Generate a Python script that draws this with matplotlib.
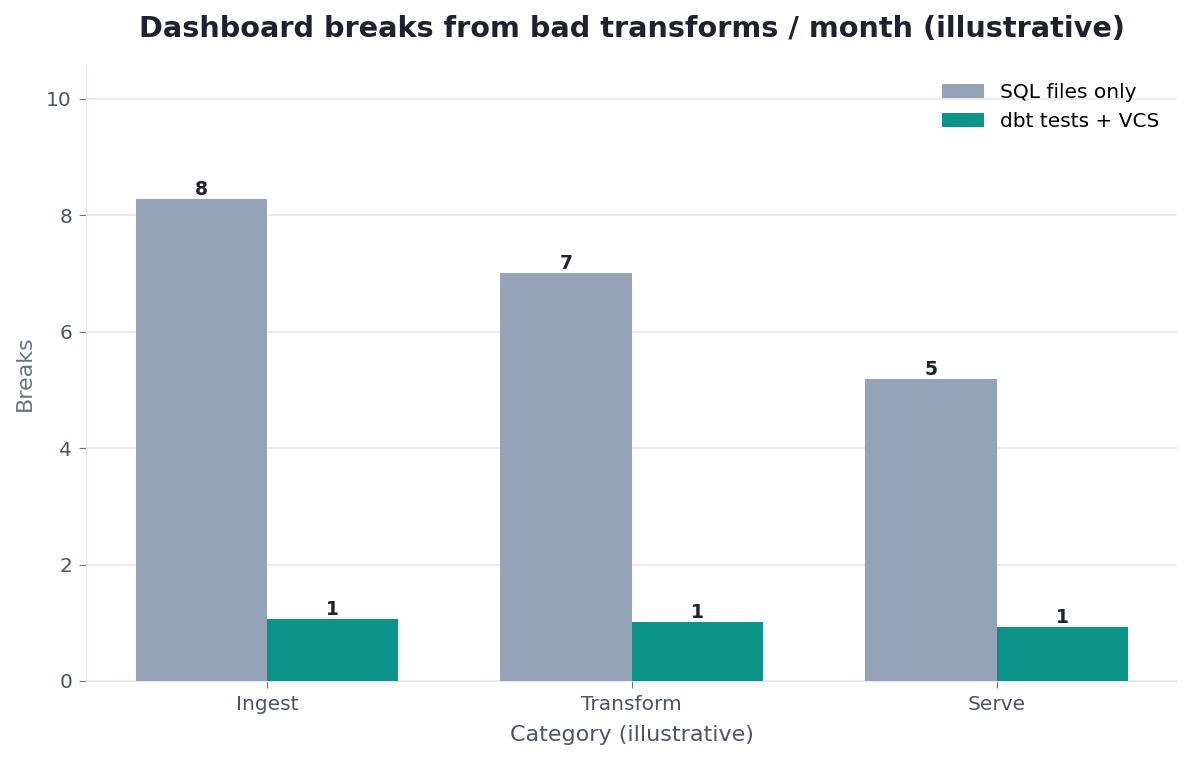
import matplotlib
matplotlib.use("Agg")
import matplotlib.pyplot as plt
import numpy as np

categories = ["Ingest", "Transform", "Serve"]
sql_only = [8.27, 7.0, 5.18]
dbt_vcs = [1.06, 1.01, 0.93]

fig, ax = plt.subplots(figsize=(11.93, 7.6), dpi=100)
fig.subplots_adjust(left=0.072, right=0.987, top=0.915, bottom=0.104)

x = np.arange(len(categories))
w = 0.36
b1 = ax.bar(x - w/2, sql_only, w, color="#94a3b8", label="SQL files only", zorder=3)
b2 = ax.bar(x + w/2, dbt_vcs, w, color="#0d9488", label="dbt tests + VCS", zorder=3)

for bars in (b1, b2):
    for r in bars:
        ax.text(r.get_x() + r.get_width()/2, r.get_height(), f"{r.get_height():.0f}",
                ha="center", va="bottom", fontsize=13.5, fontweight="bold", color="#1e2130")

ax.set_ylim(0, max(sql_only) * 1.28)
ax.set_xticks(x)
ax.set_xticklabels(categories)
ax.set_xlabel("Category (illustrative)", fontsize=16, color="#4b5568", labelpad=8)
ax.set_ylabel("Breaks", fontsize=16, color="#64748b", labelpad=8)
ax.set_title("Dashboard breaks from bad transforms / month (illustrative)",
             fontsize=20.7, fontweight="bold", color="#1e2130", pad=20)

ax.grid(axis="y", color="#e5e7eb", linewidth=1.2, zorder=0)
for s in ("top", "right"):
    ax.spines[s].set_visible(False)
for s in ("left", "bottom"):
    ax.spines[s].set_color("#e2e8f0")
ax.tick_params(colors="#64748b", labelsize=14.5, labelcolor="#4b5568", length=5, pad=5)

ax.legend(frameon=False, fontsize=14.5, loc="upper right", handlelength=2.1)

fig.savefig("out.png", dpi=100)
